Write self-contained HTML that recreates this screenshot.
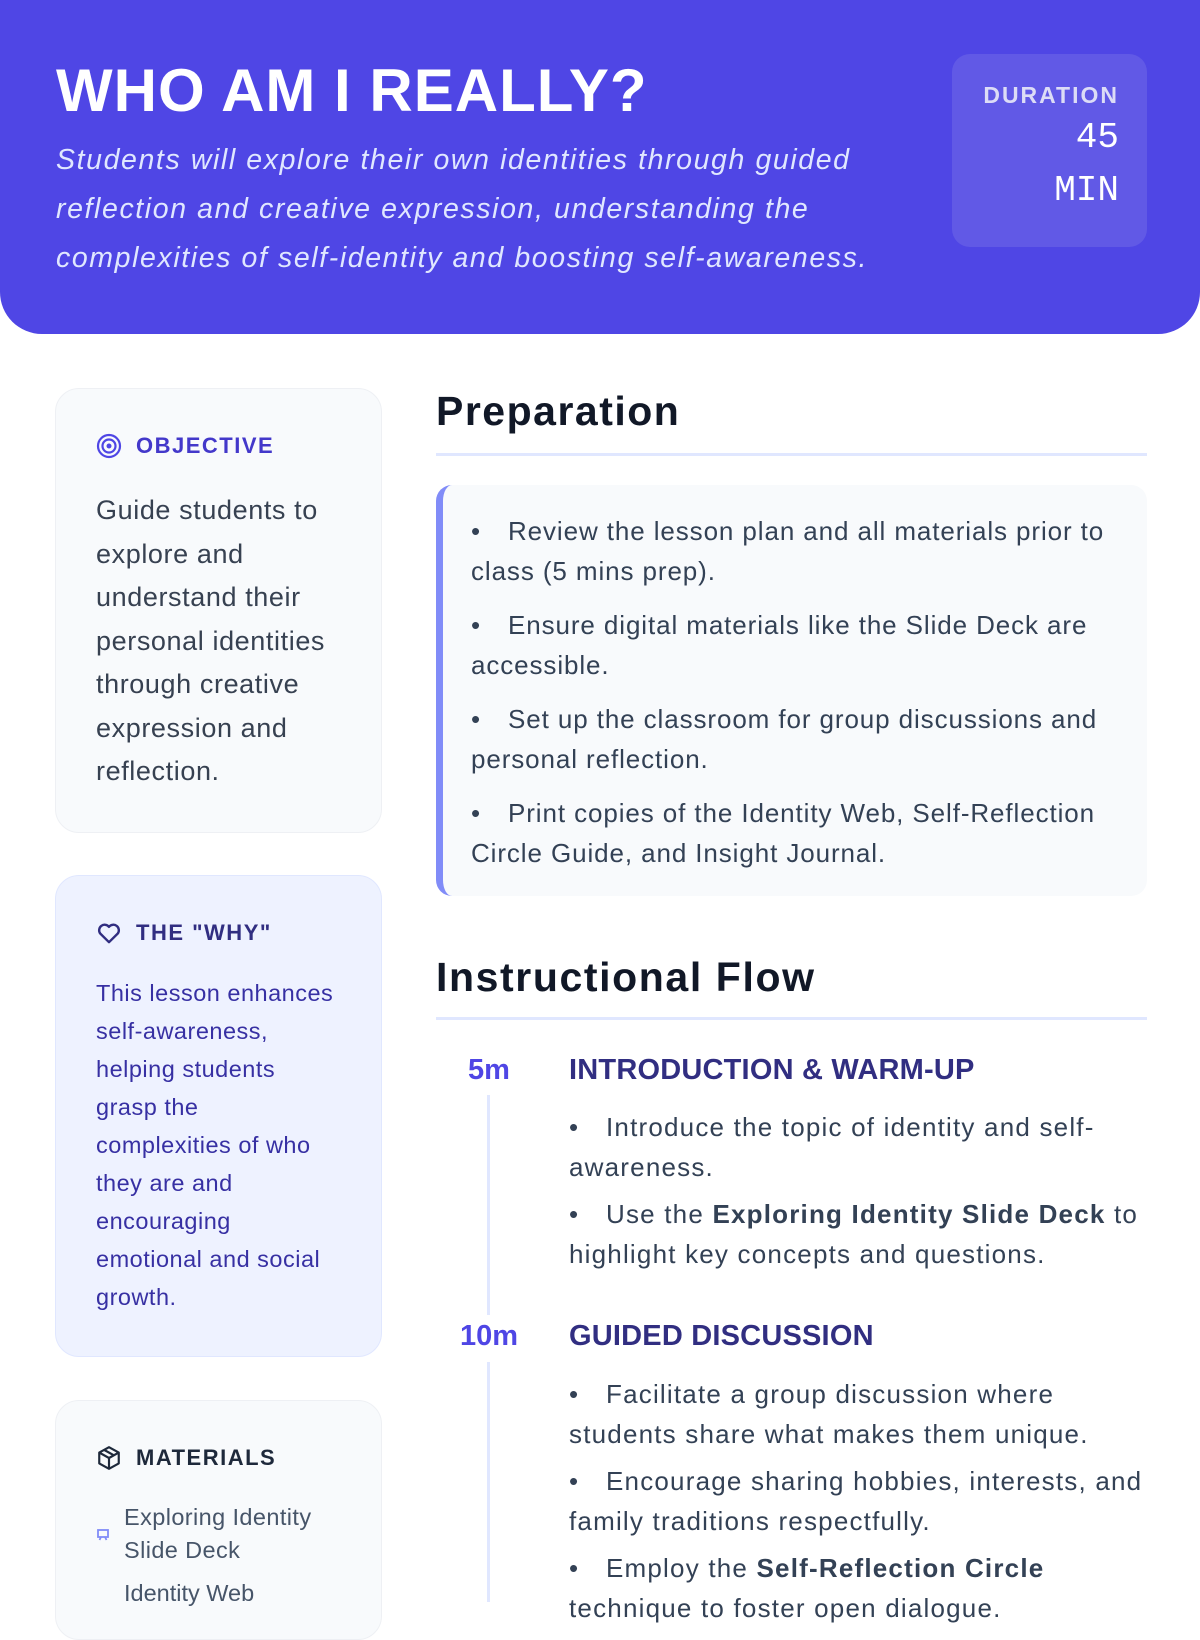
<!DOCTYPE html>
<html><head><meta charset="utf-8"><style>
*{margin:0;padding:0;box-sizing:border-box}
body{width:1200px;height:1600px;overflow:hidden;background:#fff;font-family:"Liberation Sans",sans-serif;color:#334155;position:relative}
.abs{position:absolute}
.hdr{left:0;top:0;width:1200px;height:334px;background:#4f46e5;border-radius:0 0 42px 42px}
.title{left:56px;top:56px;font-size:60px;font-weight:bold;color:#fff;letter-spacing:1px}
.sub{left:56px;top:136px;font-size:28.5px;font-style:italic;color:#e0e7ff;line-height:49px;white-space:nowrap;letter-spacing:1.6px}
.dur{left:952px;top:54px;width:195px;height:193px;background:#6159e6;border-radius:18px;text-align:right;padding:28px 28px 0 0;color:#fff}
.dur .l{font-size:23px;font-weight:bold;letter-spacing:2px;color:#dcdcf6}
.dur .v{font-family:"Liberation Mono",monospace;font-size:36px;line-height:53px;margin-top:2px}
.card{left:55px;width:327px;border:1px solid #eef0f4;border-radius:24px;background:#f8fafc}
.ch{font-size:22px;font-weight:bold;letter-spacing:1.5px;display:flex;align-items:center;gap:14px}
.h2{left:436px;font-size:41px;font-weight:bold;color:#111827}
.rule{left:436px;width:711px;height:3px;background:#e0e7ff}
.prep{left:436px;top:485px;width:711px;height:411px;background:#f8fafc;border-left:7px solid #818cf8;border-radius:16px;padding:26px 0 0 28px;font-size:26px;line-height:40px;white-space:nowrap;letter-spacing:0.9px}
.prep p{margin-bottom:14px}
.b{display:inline-block;width:37px;letter-spacing:0}
.tm{font-size:29px;font-weight:bold;color:#4f46e5;width:80px;text-align:center}
.th{font-size:29px;font-weight:bold;color:#312e81;letter-spacing:0.2px}
.tl{font-size:26px;line-height:40px;white-space:nowrap;letter-spacing:1.2px}
.tl p{margin-bottom:7px}
</style></head><body>
<div class="abs hdr"></div>
<div class="abs title">WHO AM I REALLY?</div>
<div class="abs sub">Students will explore their own identities through guided<br>reflection and creative expression, understanding the<br>complexities of self-identity and boosting self-awareness.</div>
<div class="abs dur"><div class="l">DURATION</div><div class="v">45<br>MIN</div></div>

<div class="abs card" style="top:388px;height:445px;padding:44px 0 0 40px">
<div class="ch" style="color:#4338ca"><svg width="26" height="26" viewBox="0 0 26 26"><circle cx="13" cy="13" r="11" fill="none" stroke="#4f46e5" stroke-width="2.2"/><circle cx="13" cy="13" r="6.5" fill="none" stroke="#4f46e5" stroke-width="2.2"/><circle cx="13" cy="13" r="2.5" fill="#4f46e5"/></svg>OBJECTIVE</div>
<div style="font-size:27px;line-height:43.5px;margin-top:30px;color:#374151;white-space:nowrap;letter-spacing:0.6px">Guide students to<br>explore and<br>understand their<br>personal identities<br>through creative<br>expression and<br>reflection.</div>
</div>

<div class="abs card" style="top:875px;height:482px;background:#eef2ff;border-color:#e0e7ff;padding:44px 0 0 40px">
<div class="ch" style="color:#312e81"><svg width="26" height="26" viewBox="0 0 24 24"><path d="M12 20.5 4 12.6A4.8 4.8 0 0 1 12 6.3a4.8 4.8 0 0 1 8 6.3Z" fill="none" stroke="#312e81" stroke-width="2.2" stroke-linejoin="round"/></svg>THE "WHY"</div>
<div style="font-size:23.5px;line-height:38px;margin-top:28px;color:#3730a3;white-space:nowrap;letter-spacing:0.5px">This lesson enhances<br>self-awareness,<br>helping students<br>grasp the<br>complexities of who<br>they are and<br>encouraging<br>emotional and social<br>growth.</div>
</div>

<div class="abs card" style="top:1400px;height:240px;padding:44px 0 0 40px">
<div class="ch" style="color:#1e293b"><svg width="26" height="26" viewBox="0 0 24 24" fill="none" stroke="#1e293b" stroke-width="2" stroke-linejoin="round"><path d="M12 2 21 7v10l-9 5-9-5V7Z"/><path d="M3 7l9 5 9-5M12 12v10M7.5 4.5l9 5"/></svg>MATERIALS</div>
<div style="display:flex;align-items:center;margin-top:30px;font-size:23.5px;line-height:33px;color:#475569;letter-spacing:0.4px"><span style="width:28px"><svg width="14" height="14" viewBox="0 0 14 14" fill="none" stroke="#818cf8" stroke-width="1.8"><rect x="2" y="2" width="10" height="7"/><path d="M5 9l-1.5 3M9 9l1.5 3"/></svg></span><span>Exploring Identity<br>Slide Deck</span></div>
<div style="margin:10px 0 0 28px;font-size:23.5px;line-height:33px;color:#475569">Identity Web</div>
</div>

<div class="abs h2" style="top:388px;letter-spacing:1.5px">Preparation</div>
<div class="abs rule" style="top:453px"></div>
<div class="abs prep">
<p><span class="b">•</span>Review the lesson plan and all materials prior to<br>class (5 mins prep).</p>
<p><span class="b">•</span>Ensure digital materials like the Slide Deck are<br>accessible.</p>
<p><span class="b">•</span>Set up the classroom for group discussions and<br>personal reflection.</p>
<p><span class="b">•</span>Print copies of the Identity Web, Self-Reflection<br>Circle Guide, and Insight Journal.</p>
</div>

<div class="abs h2" style="top:954px;letter-spacing:1.6px">Instructional Flow</div>
<div class="abs rule" style="top:1017px"></div>

<div class="abs" style="left:487px;top:1095px;width:3px;height:220px;background:#e0e7ff"></div>
<div class="abs" style="left:487px;top:1362px;width:3px;height:240px;background:#e0e7ff"></div>
<div class="abs tm" style="left:449px;top:1054px">5m</div>
<div class="abs th" style="left:569px;top:1054px">INTRODUCTION &amp; WARM-UP</div>
<div class="abs tl" style="left:569px;top:1107px">
<p><span class="b">•</span>Introduce the topic of identity and self-<br>awareness.</p>
<p><span class="b">•</span>Use the <b>Exploring Identity Slide Deck</b> to<br>highlight key concepts and questions.</p>
</div>
<div class="abs tm" style="left:449px;top:1320px">10m</div>
<div class="abs th" style="left:569px;top:1320px">GUIDED DISCUSSION</div>
<div class="abs tl" style="left:569px;top:1374px">
<p><span class="b">•</span>Facilitate a group discussion where<br>students share what makes them unique.</p>
<p><span class="b">•</span>Encourage sharing hobbies, interests, and<br>family traditions respectfully.</p>
<p><span class="b">•</span>Employ the <b>Self-Reflection Circle</b><br>technique to foster open dialogue.</p>
</div>
</body></html>
